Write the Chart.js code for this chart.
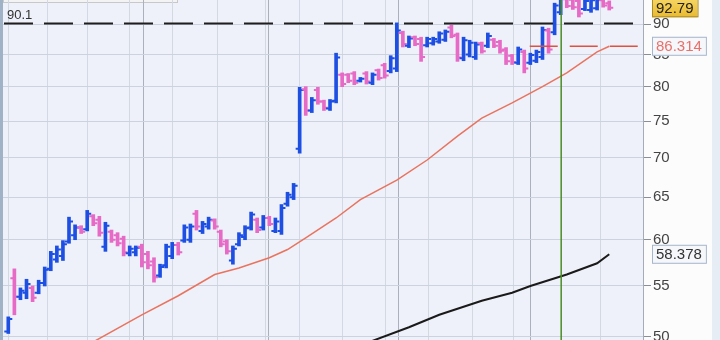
<!DOCTYPE html>
<html>
<head>
<meta charset="utf-8">
<script src="https://cdn.jsdelivr.net/npm/chart.js@4.4.1/dist/chart.umd.min.js"></script>
<style>
  html, body { margin: 0; padding: 0; background: #fff; overflow: hidden; }
  #wrap { position: absolute; left: 0; top: -20px; width: 720px; height: 390px; }
</style>
</head>
<body>
<div id="wrap"><canvas id="priceChart"></canvas></div>
<script>
// daily OHLC, bars 1..100
const opens = [
  50.5, 55.8, 53.9, 54.3, 54.8, 54.3, 55.3, 56.8, 57.8, 58.2,
  59.8, 60.5, 61.4, 61.2, 62.7, 62.3, 59.2, 60.9, 60.5, 60.1,
  58.5, 58.6, 59.2, 58.4, 57.6, 56.1, 57.2, 58.2, 59.4, 59.9,
  60.0, 63.0, 61.0, 61.5, 62.2, 60.9, 59.8, 57.7, 59.5, 60.3,
  61.4, 62.3, 61.4, 62.5, 61.0, 61.0, 64.2, 65.0, 71.2, 79.6,
  76.5, 79.5, 77.8, 76.8, 77.9, 81.8, 81.8, 82.0, 80.9, 82.0,
  80.6, 82.5, 83.3, 82.4, 82.8, 88.5, 86.4, 87.8, 87.5, 86.5,
  86.8, 87.1, 87.4, 89.4, 88.2, 84.4, 85.0, 84.6, 86.8, 86.4,
  87.4, 87.0, 85.8, 84.8, 83.7, 85.4, 83.7, 84.0, 84.6, 88.9,
  88.6, 92.0, 94.3, 94.2, 94.0, 92.6, 92.4, 92.7, 94.1, 93.6
];
const highs = [
  51.9, 56.8, 54.8, 55.7, 55.0, 55.6, 57.0, 58.7, 59.3, 59.9,
  62.6, 61.7, 61.6, 63.4, 62.9, 62.7, 62.0, 61.1, 60.8, 60.4,
  59.3, 59.3, 59.5, 58.7, 58.0, 57.3, 59.5, 59.7, 59.7, 61.7,
  61.8, 63.4, 62.1, 62.6, 62.4, 61.1, 60.0, 59.3, 60.8, 61.6,
  63.2, 62.5, 62.8, 62.7, 62.5, 64.1, 65.6, 66.7, 79.9, 80.0,
  78.4, 79.9, 78.0, 78.1, 85.2, 82.1, 82.0, 82.3, 81.4, 82.3,
  82.1, 82.7, 83.6, 84.8, 90.2, 88.8, 88.0, 88.0, 87.8, 87.8,
  87.8, 88.7, 89.0, 89.8, 88.5, 87.8, 87.3, 87.0, 87.0, 88.5,
  87.6, 87.3, 86.1, 85.0, 86.2, 85.7, 85.2, 85.7, 89.5, 89.3,
  93.6, 95.0, 94.6, 94.5, 94.4, 94.4, 94.5, 94.6, 94.4, 94.0
];
const lows = [
  50.3, 52.1, 53.6, 53.7, 53.4, 54.2, 55.0, 56.6, 57.5, 57.7,
  59.6, 60.0, 60.7, 61.0, 61.6, 60.4, 58.7, 59.7, 59.3, 58.2,
  58.2, 58.2, 57.0, 56.8, 55.4, 55.9, 56.9, 57.9, 58.3, 59.7,
  59.7, 61.1, 60.7, 61.2, 61.2, 59.2, 58.4, 57.3, 59.3, 60.0,
  61.1, 60.8, 61.1, 61.6, 60.8, 60.6, 63.9, 64.7, 70.6, 75.8,
  76.2, 77.4, 76.5, 76.5, 77.6, 80.0, 80.6, 80.3, 80.7, 80.4,
  80.3, 81.0, 81.3, 82.1, 82.3, 86.2, 86.1, 86.4, 83.9, 86.2,
  86.5, 86.8, 87.1, 87.7, 83.9, 84.0, 84.6, 84.2, 85.2, 86.1,
  86.1, 85.2, 83.4, 83.4, 83.4, 82.1, 83.4, 83.7, 84.2, 85.2,
  88.2, 91.6, 92.8, 92.5, 91.2, 92.3, 92.0, 92.4, 92.9, 92.4
];
const closes = [
  51.7, 53.9, 54.5, 55.2, 53.8, 55.3, 56.7, 58.4, 58.9, 59.5,
  62.1, 61.4, 60.9, 63.0, 61.9, 60.8, 61.6, 60.0, 59.6, 58.6,
  59.0, 59.1, 57.5, 57.2, 55.9, 57.0, 59.2, 59.4, 58.6, 61.4,
  61.5, 61.5, 61.8, 62.3, 61.5, 59.5, 58.7, 59.0, 60.5, 61.3,
  62.9, 61.1, 62.5, 61.8, 62.1, 63.7, 65.3, 66.4, 79.5, 76.5,
  78.0, 77.8, 76.9, 77.8, 84.5, 80.4, 80.9, 80.6, 81.2, 80.8,
  81.8, 81.3, 81.7, 84.4, 88.9, 86.7, 87.6, 86.7, 84.6, 87.5,
  87.5, 88.4, 88.7, 88.0, 84.5, 87.3, 86.9, 86.6, 85.5, 88.0,
  86.4, 85.6, 83.9, 83.8, 85.8, 82.8, 84.9, 85.4, 89.0, 85.8,
  93.2, 94.6, 93.1, 92.9, 91.8, 94.0, 94.1, 94.2, 93.2, 92.79
];

// moving averages, read at these bars
const redMaBars   = [14, 23, 29, 35, 39, 44, 47, 50, 55, 59, 65, 70, 75, 79, 84, 89, 93, 98, 100];
const redMaValues = [49.2, 52.1, 54.0, 56.2, 56.9, 58.0, 58.9, 60.2, 62.5, 64.7, 67.1, 69.7, 72.9, 75.4, 77.6, 80.0, 82.1, 85.4, 86.314];
const blackMaBars   = [60, 67, 72, 79, 84, 87, 93, 98, 100];
const blackMaValues = [49.4, 50.9, 52.1, 53.5, 54.3, 55.0, 56.2, 57.4, 58.378];

const yTicks = [50, 55, 60, 65, 70, 75, 80, 85, 90];
const weekLines  = [1, 7.4, 14.1, 21, 28.1, 35.4, 43.3, 49, 56.1, 63.1, 70.2, 77.4, 84.2, 98.6];
const monthLines = [23.2, 43.9, 65.2, 87];

const levelLine = 90.1;
const redLevelFrom = 86.9;
const markerBar = 92;

const blueBar = "#1d4fe3";
const pinkBar = "#e66ac6";
const fontFam = "'Liberation Sans', Arial, sans-serif";

const barColors = closes.map((c, i) => c >= opens[i] ? blueBar : pinkBar);
const priceBars = closes.map((c, i) => ({ x: i + 1, y: [lows[i], highs[i]] }));
const redMa = redMaBars.map((b, i) => ({ x: b, y: redMaValues[i] }));
const blackMa = blackMaBars.map((b, i) => ({ x: b, y: blackMaValues[i] }));

const lastClose = closes[closes.length - 1];
const redLast = redMaValues[redMaValues.length - 1];
const blackLast = blackMaValues[blackMaValues.length - 1];


const background = {
  id: "background",
  beforeDraw(chart) {
    const { ctx, chartArea: a, width, height } = chart;
    ctx.save();
    ctx.fillStyle = "#fcfcfd";
    ctx.fillRect(0, 0, width, height);
    ctx.fillStyle = "#eef1f9";
    ctx.fillRect(a.left, a.top, a.right - a.left, a.bottom - a.top);
    ctx.fillStyle = "#9fb2c6";
    ctx.fillRect(0, 0, a.left, height);
    ctx.fillStyle = "#e6edf5";
    ctx.fillRect(712, 0, 8, height);
    // bottom edge of the legend box at the top
    ctx.fillStyle = "#f3f3f3";
    ctx.fillRect(a.left, a.top - 12, 174, 14);
    ctx.strokeStyle = "#c8c8c8";
    ctx.lineWidth = 1;
    ctx.strokeRect(a.left + 0.5, a.top - 12, 174, 14.5);
    ctx.restore();
  }
};


const levels = {
  id: "levels",
  afterDatasetsDraw(chart) {
    const { ctx, chartArea: a, scales: { x, y } } = chart;
    ctx.save();

    let py = y.getPixelForValue(levelLine);
    ctx.strokeStyle = "#1e1e1e";
    ctx.lineWidth = 2;
    ctx.setLineDash([29, 11]);
    ctx.beginPath();
    ctx.moveTo(a.left + 1, py);
    ctx.lineTo(a.right - 2, py);
    ctx.stroke();

    py = y.getPixelForValue(redLast);
    ctx.strokeStyle = "#e2503f";
    ctx.lineWidth = 1.5;
    ctx.setLineDash([28, 12]);
    ctx.beginPath();
    ctx.moveTo(x.getPixelForValue(redLevelFrom), py);
    ctx.lineTo(a.right - 3, py);
    ctx.stroke();

    ctx.setLineDash([]);
    const px = x.getPixelForValue(markerBar) + 0.5;
    ctx.strokeStyle = "#4a8c24";
    ctx.lineWidth = 1.5;
    ctx.beginPath();
    ctx.moveTo(px, a.top);
    ctx.lineTo(px, a.bottom);
    ctx.stroke();
    ctx.restore();
  }
};


const ohlcTicks = {
  id: "ohlcTicks",
  afterDatasetsDraw(chart) {
    const { ctx, chartArea: a, scales: { x, y } } = chart;
    ctx.save();
    ctx.beginPath();
    ctx.rect(a.left, a.top, a.right - a.left, a.bottom - a.top);
    ctx.clip();
    ctx.lineWidth = 2;
    opens.forEach((o, i) => {
      const px = x.getPixelForValue(i + 1);
      const yo = y.getPixelForValue(o);
      const yc = y.getPixelForValue(closes[i]);
      ctx.strokeStyle = barColors[i];
      ctx.beginPath();
      ctx.moveTo(px - 4, yo);
      ctx.lineTo(px, yo);
      ctx.moveTo(px, yc);
      ctx.lineTo(px + 4, yc);
      ctx.stroke();
    });
    ctx.restore();
  }
};


function priceBox(ctx, y, text, color, bg, border) {
  ctx.font = "15px " + fontFam;
  const w = ctx.measureText(text).width + 8;
  const h = 19;
  ctx.fillStyle = bg;
  ctx.fillRect(652, y - h / 2, w, h);
  ctx.strokeStyle = border;
  ctx.lineWidth = 1;
  ctx.strokeRect(652.5, y - h / 2 + 0.5, w, h - 1);
  ctx.fillStyle = color;
  ctx.textBaseline = "middle";
  ctx.fillText(text, 656, y + 1);
}

const labels = {
  id: "labels",
  afterDraw(chart) {
    const { ctx, chartArea: a, scales: { y } } = chart;
    ctx.save();
    ctx.font = "13px " + fontFam;
    ctx.fillStyle = "#333";
    ctx.textBaseline = "alphabetic";
    ctx.fillText(String(levelLine), a.left + 4, y.getPixelForValue(levelLine) - 4);

    const gold = ctx.createLinearGradient(0, y.getPixelForValue(lastClose) - 10, 0, y.getPixelForValue(lastClose) + 10);
    gold.addColorStop(0, "#f7d865");
    gold.addColorStop(1, "#e8b82e");
    priceBox(ctx, y.getPixelForValue(lastClose), lastClose.toFixed(2), "#222", gold, "#a88a2a");
    priceBox(ctx, y.getPixelForValue(redLast), String(redLast), "#e8716a", "#f5f7fb", "#a7b6cc");
    priceBox(ctx, y.getPixelForValue(blackLast), String(blackLast), "#333", "#f5f7fb", "#a7b6cc");
    ctx.restore();
  }
};


const ctx = document.getElementById("priceChart").getContext("2d");

new Chart(ctx, {
  data: {
    datasets: [
      {
        type: "line",
        data: redMa,
        borderColor: "#e9735f",
        borderWidth: 1.5,
        pointRadius: 0,
        tension: 0
      },
      {
        type: "line",
        data: blackMa,
        borderColor: "#1a1a1a",
        borderWidth: 2,
        pointRadius: 0,
        tension: 0
      },
      {
        type: "bar",
        data: priceBars,
        backgroundColor: barColors,
        borderWidth: 0,
        barThickness: 3
      }
    ]
  },

  options: {
    responsive: true,
    maintainAspectRatio: false,
    animation: false,
    events: [],
    layout: {
      padding: { left: 3, right: 0, top: 20, bottom: 30 }
    },

    plugins: {
      legend: { display: false },
      tooltip: { enabled: false }
    },

    scales: {
      x: {
        type: "linear",
        bounds: "data",
        offset: false,
        min: 0.127,
        max: 105.56,
        afterBuildTicks: s => {
          s.ticks = weekLines.concat(monthLines).map(v => ({ value: v }));
        },
        afterFit: s => { s.height = 0; },
        ticks: { display: false },
        border: { display: false },
        grid: {
          offset: false,
          drawTicks: false,
          color: c => (c.tick && monthLines.includes(c.tick.value)) ? "#aab1bb" : "#d3d9e3",
          lineWidth: 1
        }
      },
      y: {
        type: "logarithmic",
        position: "right",
        bounds: "data",
        min: 49.69,
        max: 94.16,
        afterBuildTicks: s => {
          s.ticks = yTicks.map(v => ({ value: v }));
        },
        afterFit: s => { s.width = 77; },
        ticks: {
          callback: v => String(v),
          color: "#444",
          padding: 2,
          font: { family: fontFam, size: 15 }
        },
        border: { display: true, color: "#a4acb6" },
        grid: {
          color: "#ccd3df",
          tickColor: "#8a8f96",
          tickLength: 8
        }
      }
    }
  },

  plugins: [background, levels, ohlcTicks, labels]
});
</script>
</body>
</html>
